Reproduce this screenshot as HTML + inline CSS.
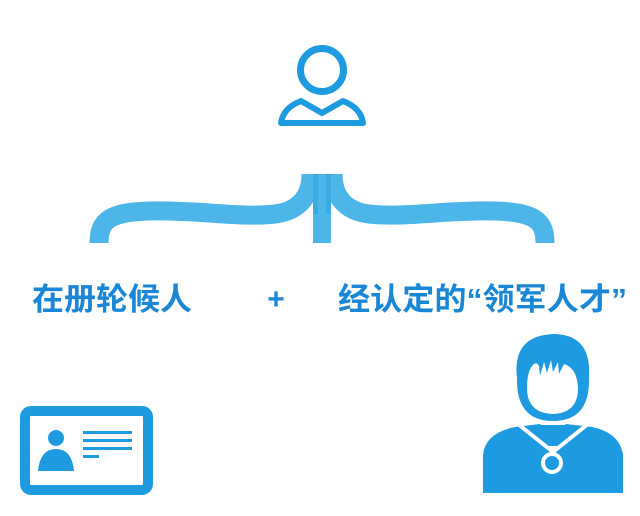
<!DOCTYPE html>
<html><head><meta charset="utf-8"><style>
html,body{margin:0;padding:0;background:#fff;width:640px;height:516px;overflow:hidden}
svg{display:block}
</style></head><body>
<svg width="640" height="516" viewBox="0 0 640 516" xmlns="http://www.w3.org/2000/svg">
<!-- top user icon -->
<circle cx="322" cy="70" r="21.5" fill="none" stroke="#1e9be0" stroke-width="7"/>
<path d="M281 123 Q283 108 301 101 L322 113 L343 101 Q361 108 363 123 Z" fill="none" stroke="#1e9be0" stroke-width="6" stroke-linejoin="round"/>
<!-- brace -->
<g fill="none" stroke="#4db6e8" stroke-width="19" stroke-linecap="butt">
<path d="M99 243 C99 220,110 212,150 211 C200 210,240 218,275 214 C300 211,311 195,311 174"/>
<path d="M545 243 C545 220,534 212,494 211 C444 210,404 218,369 214 C344 211,333 195,333 174"/>
</g>
<rect x="313" y="174" width="18" height="69" fill="#4db6e8"/>
<rect x="313" y="174" width="5" height="40" fill="#3aaae2"/>
<rect x="326" y="174" width="5" height="40" fill="#3aaae2"/>
<!-- labels -->
<g font-family="'Liberation Sans','Noto Sans CJK SC',sans-serif" font-weight="bold" fill="#1a86d6">
<text x="32" y="310" font-size="31" textLength="160" lengthAdjust="spacingAndGlyphs">在册轮候人</text>
<text x="276" y="309" font-size="30" text-anchor="middle">+</text>
<text x="338" y="310" font-size="31" textLength="289" lengthAdjust="spacingAndGlyphs">经认定的“领军人才”</text>
</g>
<!-- ID card -->
<rect x="25" y="411" width="123" height="79" rx="6" fill="none" stroke="#1e9be0" stroke-width="10"/>
<circle cx="56" cy="438" r="8" fill="#1e9be0"/>
<path d="M38 471 Q40 449 56 449 Q72 449 74 471 Z" fill="#1e9be0"/>
<g fill="#1e9be0">
<rect x="83" y="431" width="49" height="3"/>
<rect x="83" y="439" width="49" height="3"/>
<rect x="83" y="447" width="49" height="3"/>
<rect x="83" y="455" width="16" height="3"/>
</g>
<!-- person with medal -->
<path d="M483 493 L483 455 Q485 433 515 427 L540 424 L553 434 L566 424 L592 427 Q620 433 623 455 L623 493 Z" fill="#1e9be0"/>
<path d="M518 424 L553 452 L588 424" fill="none" stroke="#fff" stroke-width="4"/>
<path d="M536 425 L570 425 L553 438 Z" fill="#1e9be0"/>
<path d="M517 378 Q512 336 553 334 Q592 334 589 378 Q590 421 553 421 Q516 421 517 378 Z" fill="#1e9be0"/>
<path d="M527 388 Q527 370 534 364 Q537 362 539 366 L540 376 L544 362 L547 373 L551 360 L553 372 L558 362 L559 374 L564 364 Q577 368 578 388 Q578 413 553 414 Q527 413 527 388 Z" fill="#fff"/>
<rect x="547" y="446" width="10" height="4" fill="#fff"/>
<circle cx="552" cy="463" r="9" fill="#1e9be0" stroke="#fff" stroke-width="4"/>
</svg>
</body></html>
